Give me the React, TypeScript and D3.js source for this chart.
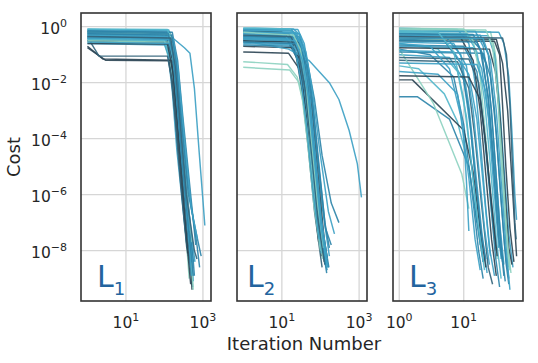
import React, { useEffect, useRef } from "react";
import * as d3 from "d3";

// each run: [iteration, log10(cost)] vertices
const l1Runs: [number, number][][] = [
  [[1,-0.1],[120,-0.15],[160,-0.6],[200,-2.2],[280,-4.8],[420,-7.4],[520,-8.8]],
  [[1,-0.15],[100,-0.22],[140,-0.8],[170,-2.0],[230,-4.2],[380,-7.0],[460,-8.3]],
  [[1,-0.2],[130,-0.28],[170,-1.0],[210,-2.6],[300,-5.0],[500,-8.0],[560,-9.1]],
  [[1,-0.25],[90,-0.3],[130,-0.9],[160,-2.1],[220,-4.0],[350,-6.6],[430,-7.9]],
  [[1,-0.3],[150,-0.35],[190,-1.2],[240,-3.0],[330,-5.5],[480,-8.0],[540,-9.3]],
  [[1,-0.35],[110,-0.4],[150,-1.0],[190,-2.5],[260,-4.7],[400,-7.6],[470,-8.7]],
  [[1,-0.4],[140,-0.45],[180,-1.3],[230,-3.0],[320,-5.2],[460,-7.9]],
  [[1,-0.45],[120,-0.5],[160,-1.2],[200,-2.7],[270,-4.9],[390,-7.5],[450,-8.5]],
  [[1,-0.5],[160,-0.55],[200,-1.6],[260,-3.5],[380,-6.2],[560,-8.4]],
  [[1,-0.55],[100,-0.6],[140,-1.3],[180,-2.8],[250,-5.1],[380,-7.8],[440,-9.0]],
  [[1,-0.6],[130,-0.65],[170,-1.5],[220,-3.2],[300,-5.6],[430,-8.1]],
  [[1,-0.15],[140,-0.2],[190,-0.9],[260,-2.8],[400,-5.5],[700,-7.8],[820,-8.6]],
  [[1,-0.35],[180,-0.45],[330,-0.75],[460,-0.95],[600,-2.2],[800,-4.5],[1000,-6.2],[1120,-7.1]],
  [[1,-0.2],[110,-0.25],[150,-0.9],[180,-2.4],[240,-4.5],[350,-7.2],[420,-8.2]],
  [[1,-0.4],[90,-0.45],[125,-1.0],[160,-2.3],[210,-4.4],[330,-7.0],[400,-8.0]],
  [[1,-0.25],[150,-0.3],[200,-1.1],[250,-2.9],[350,-5.2],[520,-7.8],[600,-8.9]],
  [[1,-0.5],[130,-0.55],[175,-1.4],[220,-3.1],[310,-5.4],[470,-8.2],[520,-9.4]],
  [[1,-0.1],[130,-0.12],[170,-0.8],[220,-2.5],[320,-5.0],[520,-7.6],[620,-8.4]],
  [[1,-0.35],[160,-0.4],[210,-1.5],[280,-3.5],[420,-6.0],[700,-7.5],[900,-8.2]],
  [[1,-0.45],[100,-0.5],[150,-1.2],[185,-2.6],[250,-4.8],[360,-7.0]],
  [[1,-0.7],[2.5,-1.15],[150,-1.2],[175,-1.8],[210,-3.0],[300,-5.3],[440,-7.9],[500,-8.9]],
  [[1,-0.75],[3,-1.2],[130,-1.22],[160,-2.0],[200,-3.5],[280,-5.8],[400,-8.1]],
  [[1.2,-0.55],[2,-1.05],[120,-1.05],[150,-1.8],[190,-3.2],[260,-5.5],[380,-7.9]],
  [[1,-0.3],[120,-0.35],[165,-1.1],[200,-2.4],[270,-4.3],[420,-7.2],[530,-8.5]],
  [[1,-0.2],[140,-0.25],[180,-1.0],[230,-2.8],[330,-5.1],[500,-7.7]],
  [[1,-0.5],[145,-0.55],[185,-1.5],[235,-3.3],[340,-5.8],[500,-8.5],[560,-9.4]],
  [[1,-0.15],[160,-0.2],[220,-1.2],[300,-3.2],[480,-6.0],[650,-7.8]],
  [[1,-0.4],[170,-0.45],[230,-1.6],[320,-3.8],[500,-6.5],[720,-7.6]],
  [[1,-0.6],[120,-0.62],[165,-1.6],[210,-3.3],[290,-5.6],[420,-8.3],[480,-9.2]],
  [[1,-0.3],[135,-0.35],[175,-1.2],[215,-2.7],[295,-5.0],[440,-7.8],[500,-8.9]],
  [[1,-0.25],[155,-0.3],[200,-1.3],[245,-3.0],[340,-5.3],[500,-8.0]],
  [[1,-0.08],[120,-0.1],[160,-0.7],[200,-2.1],[290,-4.6],[440,-7.3]],
  [[1,-0.55],[155,-0.6],[195,-1.6],[240,-3.4],[350,-6.0],[520,-8.4]],
  [[1,-0.2],[125,-0.24],[165,-0.95],[205,-2.5],[290,-4.9],[450,-7.6],[560,-8.9]],
  [[1,-0.35],[145,-0.4],[190,-1.4],[250,-3.3],[370,-6.0],[600,-8.0],[700,-8.3]],
];
const l1Colors = [3,2,3,4,2,3,0,3,2,5,3,2,3,1,3,2,0,3,2,4,0,0,1,3,5,5,2,3,0,3,2,4,3,2,1];

const l2Runs: [number, number][][] = [
  [[1,-0.05],[20,-0.08],[30,-0.3],[40,-1.2],[55,-3.0],[80,-5.5],[120,-7.8],[140,-8.5]],
  [[1,-0.1],[18,-0.12],[28,-0.5],[38,-1.5],[50,-3.2],[75,-5.8],[110,-8.0]],
  [[1,-0.15],[22,-0.2],[32,-0.7],[45,-2.0],[62,-4.0],[95,-6.6],[140,-8.3]],
  [[1,-0.2],[15,-0.25],[25,-0.8],[35,-2.0],[48,-3.9],[70,-6.2],[105,-8.2]],
  [[1,-0.25],[20,-0.3],[30,-0.9],[42,-2.2],[58,-4.2],[85,-6.5],[130,-8.4],[150,-8.7]],
  [[1,-0.3],[12,-0.35],[22,-0.9],[32,-2.0],[45,-3.8],[65,-5.9],[95,-7.5]],
  [[1,-0.35],[25,-0.4],[35,-1.1],[50,-2.5],[70,-4.6],[100,-6.8],[150,-8.5]],
  [[1,-0.4],[18,-0.45],[28,-1.0],[40,-2.3],[55,-4.1],[80,-6.3],[120,-8.1]],
  [[1,-0.45],[14,-0.5],[24,-1.1],[34,-2.4],[48,-4.3],[70,-6.6],[110,-8.6]],
  [[1,-0.5],[20,-0.55],[32,-1.2],[46,-2.6],[65,-4.6],[95,-6.9],[140,-8.4]],
  [[1,-0.55],[16,-0.6],[26,-1.2],[38,-2.5],[52,-4.2],[76,-6.4]],
  [[1,-0.6],[22,-0.65],[34,-1.3],[50,-2.8],[72,-5.0],[110,-7.4],[160,-8.6]],
  [[1,-0.15],[10,-0.2],[18,-0.5],[28,-1.4],[40,-3.0],[60,-5.5],[90,-7.7]],
  [[1,-0.08],[26,-0.1],[38,-0.6],[52,-1.8],[72,-3.8],[110,-6.4],[170,-8.2]],
  [[1,-0.3],[28,-0.35],[42,-1.0],[60,-2.4],[85,-4.5],[130,-7.0],[170,-7.9]],
  [[1,-0.7],[20,-0.75],[32,-1.3],[45,-2.6],[62,-4.6],[90,-7.0],[130,-8.5]],
  [[1,-0.9],[15,-0.95],[28,-1.5],[40,-2.7],[56,-4.5],[82,-6.8]],
  [[1,-1.25],[14,-1.35],[25,-1.8],[34,-2.6],[46,-4.1],[68,-6.4],[100,-8.0]],
  [[1,-1.45],[16,-1.55],[28,-2.0],[38,-2.9],[52,-4.4],[78,-6.6],[115,-8.3]],
  [[1,-0.5],[15,-0.8],[50,-1.2],[170,-2.0],[300,-2.6],[550,-3.7],[900,-4.9],[1150,-6.1]],
  [[1,-0.4],[30,-0.45],[45,-1.2],[70,-2.6],[110,-4.6],[190,-6.3],[300,-7.0]],
  [[1,-0.2],[28,-0.25],[42,-0.9],[62,-2.3],[95,-4.4],[160,-6.6],[230,-7.4]],
  [[1,-0.05],[16,-0.08],[26,-0.6],[36,-1.8],[50,-3.6],[72,-6.0],[105,-8.1]],
  [[1,-0.35],[24,-0.4],[36,-1.1],[52,-2.6],[75,-4.8],[115,-7.3],[165,-8.6]],
  [[1,-0.25],[12,-0.3],[22,-0.8],[32,-2.0],[44,-3.6],[64,-5.9],[92,-7.6]],
  [[1,-0.5],[26,-0.55],[40,-1.3],[58,-2.8],[82,-5.0],[125,-7.6],[150,-8.3]],
  [[1,-0.12],[19,-0.15],[30,-0.6],[44,-1.9],[60,-3.8],[88,-6.3],[130,-8.2]],
  [[1,-0.65],[18,-0.7],[30,-1.3],[44,-2.7],[62,-4.7],[95,-7.2],[145,-8.8]],
  [[1,-0.4],[20,-0.45],[32,-1.1],[46,-2.4],[66,-4.5],[100,-7.0],[155,-8.6]],
  [[1,-0.3],[17,-0.35],[27,-0.9],[40,-2.2],[56,-4.2],[84,-6.8],[125,-8.4]],
  [[1,-0.18],[24,-0.22],[36,-0.8],[50,-2.1],[70,-4.2],[104,-6.8],[150,-8.3]],
  [[1,-0.55],[28,-0.6],[44,-1.4],[64,-2.9],[90,-5.0],[135,-7.2],[190,-7.8]],
  [[1,-0.2],[20,-0.3],[30,-0.8],[42,-2.0],[58,-4.0],[86,-6.4],[120,-7.9]],
  [[1,-0.45],[22,-0.5],[34,-1.2],[48,-2.5],[68,-4.6],[104,-7.2],[150,-8.6]],
];
const l2Colors = [3,2,3,0,3,4,2,3,1,3,2,3,0,3,2,0,0,5,5,3,2,3,4,2,3,0,3,2,3,1,3,2,5,3];

const l3Runs: [number, number][][] = [
  [[1,-0.05],[8,-0.1],[12,-0.6],[15,-2.0],[18,-4.0],[22,-6.5],[26,-8.2]],
  [[1,-0.15],[26,-0.18],[30,-0.8],[34,-2.5],[38,-4.8],[44,-7.0],[50,-8.6]],
  [[1,-0.45],[28,-0.47],[32,-1.2],[36,-3.0],[41,-5.5],[48,-7.8],[54,-8.8]],
  [[1,-0.5],[30,-0.52],[36,-1.0],[40,-2.8],[45,-5.0],[52,-7.2],[60,-8.4]],
  [[1,-0.3],[12,-0.35],[18,-0.8],[24,-2.5],[30,-5.0],[36,-7.4],[42,-8.9]],
  [[1,-0.2],[5,-0.3],[9,-1.0],[12,-2.8],[15,-5.0],[19,-7.3],[23,-8.8]],
  [[1,-0.6],[4,-0.8],[8,-1.6],[11,-3.2],[14,-5.5],[18,-7.8]],
  [[1,-0.8],[3,-1.0],[7,-1.8],[10,-3.5],[13,-5.6],[17,-8.0],[20,-9.0]],
  [[1,-1.0],[6,-1.1],[10,-1.9],[13,-3.8],[16,-6.0],[20,-8.4]],
  [[1,-1.2],[8,-1.25],[12,-2.2],[15,-4.0],[19,-6.4],[24,-8.6],[28,-9.2]],
  [[1,-1.4],[2,-1.5],[5,-2.4],[8,-3.4],[12,-5.0],[16,-7.0]],
  [[1,-1.9],[1.6,-1.9],[10,-3.7],[14,-5.2],[18,-7.2],[22,-8.6]],
  [[1,-2.5],[1.9,-2.5],[6,-3.3],[12,-5.0],[16,-7.0],[20,-8.4]],
  [[1,-0.8],[3.4,-2.75],[9.3,-5.25],[12,-6.5]],
  [[1,-0.1],[15,-0.15],[20,-0.7],[25,-2.2],[30,-4.5],[36,-7.0],[42,-8.5]],
  [[1,-0.25],[18,-0.3],[24,-1.0],[30,-3.0],[36,-5.5],[43,-7.8],[50,-9.0]],
  [[1,-0.35],[9,-0.4],[14,-1.2],[18,-3.0],[22,-5.3],[27,-7.6],[32,-8.9]],
  [[1,-0.7],[14,-0.75],[19,-1.5],[24,-3.2],[29,-5.6],[35,-7.9]],
  [[1,-0.9],[20,-0.95],[26,-1.8],[32,-3.8],[38,-6.2],[45,-8.4],[50,-9.2]],
  [[1,-0.15],[35,-0.2],[42,-0.6],[50,-1.8],[56,-3.8],[62,-6.0],[66,-6.9]],
  [[1,-0.4],[32,-0.45],[40,-1.3],[48,-3.0],[55,-5.2],[62,-7.2],[66,-8.2]],
  [[1,-0.55],[7,-0.6],[11,-1.4],[14,-3.0],[17,-5.0],[21,-7.2],[25,-8.5]],
  [[1,-0.05],[10,-0.08],[14,-0.5],[18,-1.8],[22,-4.0],[27,-6.6],[33,-8.3]],
  [[1,-0.65],[10,-0.7],[16,-1.6],[20,-3.4],[25,-5.8],[31,-8.2],[36,-9.3]],
  [[1,-1.6],[4,-1.7],[8,-2.4],[10,-3.8],[11,-5.5],[12,-7.3]],
  [[1,-1.1],[12,-1.15],[17,-2.0],[21,-3.8],[26,-6.0],[32,-8.0]],
  [[1,-0.3],[24,-0.32],[30,-1.0],[36,-2.8],[42,-5.0],[50,-7.4],[58,-8.6]],
  [[1,-0.45],[5,-0.5],[9,-1.3],[12,-3.0],[15,-5.3],[19,-7.5],[22,-8.3]],
  [[1,-0.2],[11,-0.25],[16,-0.9],[21,-2.6],[26,-5.0],[32,-7.6],[38,-9.0]],
  [[1,-0.75],[25,-0.8],[31,-1.6],[37,-3.4],[43,-5.7],[50,-7.9],[56,-8.5]],
  [[1,-1.3],[16,-1.35],[22,-2.3],[27,-4.2],[32,-6.4],[38,-8.3]],
  [[1,-0.5],[16,-0.55],[22,-1.3],[27,-3.0],[32,-5.4],[38,-7.8],[44,-9.1]],
  [[1,-0.1],[22,-0.12],[28,-0.7],[33,-2.2],[39,-4.6],[46,-7.2],[52,-8.7]],
  [[1,-0.85],[7,-0.9],[12,-1.7],[16,-3.3],[20,-5.6],[25,-7.9],[30,-8.9]],
  [[1,-0.35],[40,-0.4],[46,-1.0],[52,-2.8],[57,-5.0],[62,-7.0],[65,-7.6]],
  [[1,-0.6],[3,-0.7],[6,-1.5],[9,-3.2],[12,-5.4],[15,-7.6],[18,-8.7]],
  [[1,-0.25],[14,-0.28],[19,-0.9],[24,-2.6],[29,-5.0],[35,-7.6],[40,-8.4]],
  [[1,-1.75],[12,-1.8],[18,-2.6],[22,-4.2],[27,-6.3],[33,-8.2]],
  [[1,-0.15],[4,-0.2],[7,-0.9],[10,-2.6],[13,-4.8],[17,-7.2],[21,-8.7]],
  [[1,-0.4],[20,-0.42],[26,-1.2],[32,-3.0],[38,-5.5],[45,-7.8],[52,-9.4]],
];
const l3Colors = [3,5,5,0,2,3,4,2,3,1,4,0,2,5,3,2,0,3,2,3,0,3,5,2,3,1,3,2,4,0,3,2,5,3,1,3,2,0,4,3];

const palette = ["#2e4756", "#35657c", "#2f86aa", "#3ea1c4", "#55b7cb", "#8ed2c1"];
const costTickExps = [0, -2, -4, -6, -8];
const iterTickExpsL12 = [1, 3];
const iterTickExpsL3 = [0, 1];

const W = 538;
const H = 363;
const top = 13;
const bottom = 301;
const font = "DejaVu Sans, sans-serif";
const ink = "#262626";

const panels = [
  { left: 81, right: 211, domain: [0.68, 1620], runs: l1Runs, colors: l1Colors, ticks: iterTickExpsL12, sub: "1", labelDx: 16 },
  { left: 237, right: 367, domain: [0.69, 1600], runs: l2Runs, colors: l2Colors, ticks: iterTickExpsL12, sub: "2", labelDx: 10 },
  { left: 393, right: 523, domain: [0.8, 83], runs: l3Runs, colors: l3Colors, ticks: iterTickExpsL3, sub: "3", labelDx: 16 },
];

const supLabel = (sel: any, exp: number) => {
  sel.append("tspan").text("10");
  sel.append("tspan")
    .attr("font-size", 11)
    .attr("dy", -6.5)
    .text(exp < 0 ? "\u2212" + Math.abs(exp) : String(exp));
};

const App = () => {
  const svgRef = useRef<SVGSVGElement>(null);

  useEffect(() => {
    const svg = d3.select(svgRef.current);
    svg.selectAll("*").remove();

    const y = d3.scaleLog().domain([Math.pow(10, -9.8), Math.pow(10, 0.49)]).range([bottom, top]);

    panels.forEach((p, pi) => {
      const x = d3.scaleLog().domain(p.domain).range([p.left, p.right]);
      const g = svg.append("g");

      g.append("clipPath").attr("id", "clip" + pi)
        .append("rect")
        .attr("x", p.left).attr("y", top)
        .attr("width", p.right - p.left).attr("height", bottom - top);

      // grid
      costTickExps.forEach((e) => {
        g.append("line")
          .attr("x1", p.left).attr("x2", p.right)
          .attr("y1", y(Math.pow(10, e))).attr("y2", y(Math.pow(10, e)))
          .attr("stroke", "#d6d6d6").attr("stroke-width", 1.3);
      });
      p.ticks.forEach((e) => {
        g.append("line")
          .attr("x1", x(Math.pow(10, e))).attr("x2", x(Math.pow(10, e)))
          .attr("y1", top).attr("y2", bottom)
          .attr("stroke", "#d6d6d6").attr("stroke-width", 1.3);
        const t = g.append("text")
          .attr("x", x(Math.pow(10, e)))
          .attr("y", 327.5)
          .attr("text-anchor", "middle")
          .attr("font-family", font).attr("font-size", 15.5)
          .attr("fill", ink);
        supLabel(t, e);
      });

      const line = d3.line<[number, number]>()
        .x((d) => x(d[0]))
        .y((d) => y(Math.pow(10, d[1])));

      g.append("g").attr("clip-path", `url(#clip${pi})`)
        .selectAll("path")
        .data(p.runs)
        .enter()
        .append("path")
        .attr("d", (d) => line(d))
        .attr("fill", "none")
        .attr("stroke", (d, i) => palette[p.colors[i] ?? 3])
        .attr("stroke-width", 1.45)
        .attr("stroke-opacity", 0.92)
        .attr("stroke-linejoin", "round");

      // frame
      g.append("rect")
        .attr("x", p.left).attr("y", top)
        .attr("width", p.right - p.left).attr("height", bottom - top)
        .attr("fill", "none").attr("stroke", "#333").attr("stroke-width", 1.6);

      const lab = g.append("text")
        .attr("x", p.left + p.labelDx).attr("y", 287)
        .attr("font-family", font).attr("font-size", 30)
        .attr("fill", "#23649e");
      lab.append("tspan").text("L");
      lab.append("tspan").attr("font-size", 18).attr("dy", 8).text(p.sub);
    });

    // y ticks
    costTickExps.forEach((e) => {
      const t = svg.append("text")
        .attr("x", 67)
        .attr("y", y(Math.pow(10, e)) + 7)
        .attr("text-anchor", "end")
        .attr("font-family", font).attr("font-size", 15.5)
        .attr("fill", ink);
      supLabel(t, e);
    });

    svg.append("text")
      .attr("transform", `translate(19.5,${(top + bottom) / 2}) rotate(-90)`)
      .attr("text-anchor", "middle")
      .attr("font-family", font).attr("font-size", 18)
      .attr("fill", ink)
      .text("Cost");

    svg.append("text")
      .attr("x", 304).attr("y", 350)
      .attr("text-anchor", "middle")
      .attr("font-family", font).attr("font-size", 18)
      .attr("fill", ink)
      .text("Iteration Number");
  }, []);

  return (
    <svg
      ref={svgRef}
      width={W}
      height={H}
      style={{ position: "absolute", left: 0, top: 0, background: "#fff" }}
    />
  );
};

export default App;
